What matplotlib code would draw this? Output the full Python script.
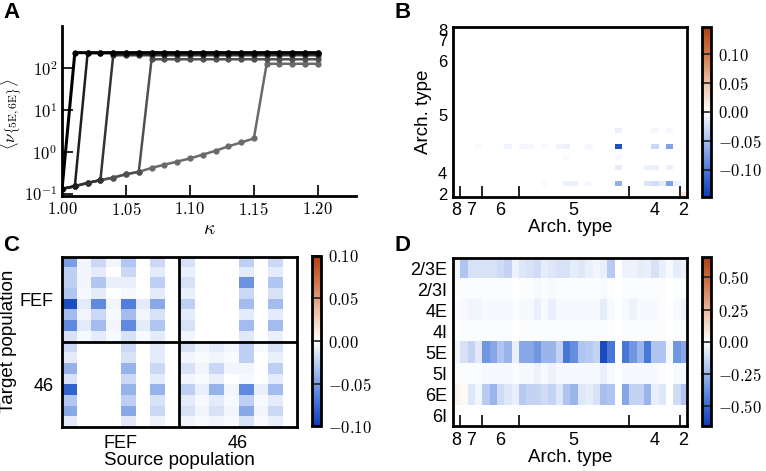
import numpy as np
import matplotlib
matplotlib.use('Agg')
import matplotlib.pyplot as plt
from matplotlib.colors import LinearSegmentedColormap
from matplotlib.ticker import FixedLocator, FuncFormatter, NullFormatter

plt.rcParams['font.family'] = ['Liberation Sans', 'DejaVu Sans']
plt.rcParams['mathtext.fontset'] = 'cm'

# ---- panel A data ----
kappa = [1.00, 1.01, 1.02, 1.03, 1.04, 1.05, 1.06, 1.07, 1.08, 1.09, 1.10,
         1.11, 1.12, 1.13, 1.14, 1.15, 1.16, 1.17, 1.18, 1.19, 1.20]
low_branch = [0.13, 0.15, 0.18, 0.21, 0.24, 0.29, 0.33, 0.41, 0.49, 0.58, 0.69,
              0.85, 1.05, 1.34, 1.66, 2.07]
jump_index = [1, 2, 4, 7, 16]
plateau = [230, 225, 200, 160, 125]
line_colors = ['#000000', '#1e1e1e', '#333333', '#505050', '#6a6a6a']
line_widths = [2.2, 1.8, 1.8, 1.8, 1.8]

# ---- architecture groups (panels B, D) ----
arch_labels = ['8', '7', '6', '5', '4', '2']
arch_counts = [1, 3, 5, 15, 7, 1]

# ---- panel B: sparse cells (row, col, value) ----
b_cells = [(22, 22, -0.13), (22, 27, -0.03), (22, 29, -0.07), (22, 7, -0.008),
           (22, 9, -0.006), (22, 10, -0.006), (22, 14, -0.008), (22, 15, -0.01),
           (22, 18, -0.006), (22, 3, -0.003), (22, 12, -0.004),
           (19, 22, -0.012), (19, 27, -0.006), (19, 29, -0.006),
           (26, 22, -0.015), (26, 26, -0.01), (26, 27, -0.012), (26, 29, -0.01),
           (24, 15, -0.004), (24, 22, -0.005),
           (29, 22, -0.06), (29, 26, -0.02), (29, 27, -0.025), (29, 28, -0.015),
           (29, 29, -0.07), (29, 30, -0.01), (29, 15, -0.01), (29, 16, -0.01),
           (29, 18, -0.006), (29, 12, -0.004),
           (31, 31, 0.02)]

# ---- panel C: FEF / 46 population matrix ----
populations = ['2/3E', '2/3I', '4E', '4I', '5E', '5I', '6E', '6I']
c_areas = ['FEF', '46']
c_values = [
    [-0.050, -0.005, -0.020, -0.005, -0.030, 0.000, -0.020, 0.000, -0.015, 0.000, 0.000, 0.000, -0.025, 0.000, -0.020, 0.000],
    [-0.025, -0.005, -0.010, 0.000, -0.020, 0.000, -0.010, 0.000, -0.008, 0.000, 0.000, 0.000, -0.010, 0.000, -0.010, 0.000],
    [-0.025, -0.005, -0.030, -0.008, -0.008, 0.000, -0.025, 0.000, -0.015, 0.000, 0.000, 0.000, -0.055, 0.000, -0.030, 0.000],
    [-0.030, -0.003, -0.010, 0.000, -0.003, 0.000, -0.010, 0.000, -0.008, 0.000, 0.000, 0.000, -0.020, 0.000, -0.015, 0.000],
    [-0.090, -0.010, -0.060, -0.005, -0.065, -0.010, -0.045, 0.000, -0.025, 0.000, 0.000, 0.000, -0.035, 0.000, -0.035, 0.000],
    [-0.035, -0.005, -0.020, -0.003, -0.035, -0.005, -0.015, 0.000, -0.010, 0.000, 0.000, 0.000, -0.010, 0.000, -0.010, 0.000],
    [-0.060, -0.010, -0.035, -0.005, -0.060, -0.010, -0.030, 0.000, -0.015, 0.000, 0.000, 0.000, -0.035, 0.000, -0.035, 0.000],
    [-0.015, -0.003, -0.010, -0.003, -0.015, -0.003, -0.010, 0.000, -0.005, 0.000, 0.000, 0.000, -0.012, 0.000, -0.008, 0.000],
    [-0.020, 0.000, 0.000, 0.000, -0.020, 0.000, -0.010, 0.000, -0.015, -0.005, -0.010, -0.005, -0.025, -0.003, -0.015, 0.000],
    [-0.010, 0.000, 0.000, 0.000, -0.015, 0.000, -0.010, 0.000, -0.005, -0.002, -0.005, -0.002, -0.025, 0.000, -0.008, 0.000],
    [-0.040, 0.000, 0.000, 0.000, -0.040, 0.000, -0.020, 0.000, -0.015, -0.005, -0.020, -0.005, -0.005, 0.000, -0.025, 0.000],
    [-0.015, 0.000, 0.000, 0.000, -0.020, 0.000, -0.010, 0.000, -0.005, -0.002, -0.008, 0.000, -0.003, 0.000, -0.010, 0.000],
    [-0.080, 0.000, 0.000, 0.000, -0.040, 0.000, -0.040, 0.000, -0.025, -0.008, -0.040, -0.005, -0.060, -0.008, -0.035, 0.000],
    [-0.030, 0.000, 0.000, 0.000, -0.025, 0.000, -0.015, 0.000, -0.010, -0.003, -0.010, -0.003, -0.025, -0.003, -0.010, 0.000],
    [-0.045, 0.000, 0.000, 0.000, -0.045, 0.000, -0.020, 0.000, -0.015, -0.005, -0.015, -0.005, -0.045, -0.005, -0.020, 0.000],
    [-0.010, 0.000, 0.000, 0.000, -0.012, 0.000, -0.006, 0.000, -0.005, -0.002, -0.005, -0.002, -0.015, -0.002, -0.008, 0.000],
]

# ---- panel D: population x area ----
d_values = [
    [-0.03, -0.20, -0.10, -0.10, -0.10, -0.10, -0.12, -0.15, -0.04, -0.08, -0.10, -0.12, -0.06, -0.08, -0.10, -0.10,
     -0.06, -0.08, -0.05, -0.03, -0.05, -0.18, 0.00, -0.04, -0.04, -0.06, -0.05, -0.10, -0.05, -0.02, -0.06, -0.04],
    [-0.01, -0.01, -0.01, -0.01, -0.01, -0.01, -0.01, -0.01, 0.00, -0.01, -0.01, -0.02, -0.01, -0.02, -0.01, -0.01,
     -0.01, -0.01, -0.01, -0.01, -0.02, -0.01, 0.00, -0.01, -0.01, -0.01, -0.01, -0.01, -0.01, 0.00, -0.01, -0.01],
    [-0.01, -0.02, -0.03, -0.03, -0.02, -0.02, -0.02, -0.02, -0.01, -0.02, -0.02, -0.05, -0.02, -0.05, -0.02, -0.02,
     -0.02, -0.02, -0.02, -0.02, -0.06, -0.02, 0.00, -0.02, -0.04, -0.02, -0.02, -0.02, -0.01, 0.00, -0.02, -0.04],
    [0.00, -0.01, -0.01, -0.01, -0.01, -0.01, -0.01, -0.01, 0.00, -0.01, -0.01, -0.01, -0.01, -0.01, -0.01, -0.01,
     -0.01, -0.01, -0.01, -0.01, -0.01, -0.01, 0.00, -0.01, -0.01, -0.01, -0.01, -0.01, -0.01, 0.00, -0.01, -0.01],
    [-0.03, -0.10, -0.15, -0.07, -0.35, -0.30, -0.20, -0.25, -0.05, -0.30, -0.30, -0.35, -0.25, -0.25, -0.15, -0.45,
     -0.38, -0.20, -0.18, -0.15, -0.60, -0.45, 0.00, -0.45, -0.35, -0.25, -0.45, -0.20, -0.20, -0.02, -0.35, -0.30],
    [-0.01, -0.01, -0.01, -0.01, -0.02, -0.02, -0.02, -0.02, -0.01, -0.02, -0.02, -0.04, -0.02, -0.04, -0.02, -0.02,
     -0.02, -0.02, -0.02, -0.02, -0.05, -0.02, 0.00, -0.02, -0.02, -0.02, -0.02, -0.02, -0.01, 0.00, -0.02, -0.02],
    [0.04, 0.02, -0.08, -0.03, -0.18, -0.25, -0.12, -0.08, -0.05, -0.18, -0.15, -0.15, -0.12, -0.15, -0.08, -0.20,
     -0.25, -0.08, -0.06, -0.10, -0.22, -0.20, 0.00, -0.30, -0.15, -0.15, -0.25, -0.05, -0.08, 0.00, -0.12, -0.20],
    [0.00, 0.00, 0.00, 0.00, 0.00, 0.00, 0.00, 0.00, 0.00, 0.00, 0.00, 0.00, 0.00, 0.00, 0.00, 0.00,
     0.00, 0.00, 0.00, 0.00, 0.00, 0.00, 0.00, 0.00, 0.00, 0.00, 0.00, 0.00, 0.00, 0.00, 0.00, 0.00],
]

# odd N so that zero lands exactly on the white centre
cmap = LinearSegmentedColormap.from_list(
    'bo', ['#0a3cb8', '#4f7ddb', '#a9c0ef', '#ffffff', '#efc3a9', '#d27a4c', '#b0400c'], N=255)

cm_fmt = FuncFormatter(lambda v, p: r'$%.2f$' % v)
SANS = 13
CMSIZE = 12


def frame(ax, lw=2.0):
    for s in ax.spines.values():
        s.set_linewidth(lw)


def add_cbar(fig, im, rect, ticks):
    cax = fig.add_axes(rect)
    cb = fig.colorbar(im, cax=cax, ticks=ticks)
    cb.outline.set_linewidth(2.0)
    cb.ax.yaxis.set_major_formatter(cm_fmt)
    cb.ax.tick_params(direction='in', length=7, width=1.2, color='#222222',
                      labelsize=CMSIZE, pad=5)
    return cb


def arch_axis(axis, n):
    bounds = np.cumsum(arch_counts)[:-1]
    centers = np.cumsum(arch_counts) - np.array(arch_counts) / 2.0
    axis.set_major_locator(FixedLocator(bounds))
    axis.set_major_formatter(NullFormatter())
    axis.set_minor_locator(FixedLocator(centers))
    axis.set_minor_formatter(FuncFormatter(lambda v, p: arch_labels[p]))


fig = plt.figure(figsize=(7.66, 4.71), dpi=100)

# ---------------- A ----------------
axA = fig.add_axes([0.081, 0.584, 0.384, 0.361])
for k in range(len(jump_index)):
    j = jump_index[k]
    y = low_branch[:j] + [plateau[k]] * (len(kappa) - j)
    axA.plot(kappa, y, color=line_colors[k], lw=line_widths[k], marker='o', ms=3.5,
             mec=line_colors[k], zorder=10 - k)
axA.set_yscale('log')
axA.set_xlim(1.0, 1.23)
axA.set_ylim(0.088, 1000)
axA.set_xticks([1.00, 1.05, 1.10, 1.15, 1.20])
axA.xaxis.set_major_formatter(cm_fmt)
axA.yaxis.set_major_locator(FixedLocator([0.1, 1, 10, 100]))
axA.yaxis.set_minor_locator(FixedLocator([]))
axA.yaxis.set_major_formatter(FuncFormatter(lambda v, p: r'$10^{%d}$' % round(np.log10(v))))
axA.spines['top'].set_visible(False)
axA.spines['right'].set_visible(False)
axA.spines['left'].set_linewidth(2)
axA.spines['bottom'].set_linewidth(2)
axA.tick_params(direction='in', length=8, width=1.2, labelsize=CMSIZE)
axA.set_xlabel(r'$\kappa$', fontsize=14, labelpad=2)
axA.set_ylabel(r'$\langle \nu_{\{\mathrm{5E,6E}\}} \rangle$', fontsize=12)
axA.yaxis.set_label_coords(-0.128, 0.48)

# ---------------- B ----------------
n_areas = sum(arch_counts)
b_matrix = np.zeros((n_areas, n_areas))
for r, c, v in b_cells:
    b_matrix[r, c] = v
axB = fig.add_axes([0.591, 0.582, 0.306, 0.361])
imB = axB.imshow(b_matrix, cmap=cmap, vmin=-0.147, vmax=0.147, aspect='auto',
                 interpolation='nearest', extent=(0, n_areas, n_areas, 0))
arch_axis(axB.xaxis, n_areas)
arch_axis(axB.yaxis, n_areas)
axB.tick_params(axis='x', which='major', direction='in', length=8, width=1.2, top=False)
axB.tick_params(axis='y', which='major', length=0)
axB.tick_params(which='minor', length=0, labelsize=SANS, pad=4)
axB.tick_params(axis='y', which='minor', labelsize=12)
axB.set_xlabel('Arch. type', fontsize=SANS + 0.5, labelpad=0)
axB.set_ylabel('Arch. type', fontsize=SANS + 0.5, labelpad=4)
frame(axB)
add_cbar(fig, imB, [0.916, 0.582, 0.012, 0.361], [-0.10, -0.05, 0.0, 0.05, 0.10])

# ---------------- C ----------------
axC = fig.add_axes([0.0805, 0.094, 0.307, 0.361])
nC = len(c_values)
imC = axC.imshow(np.array(c_values), cmap=cmap, vmin=-0.10, vmax=0.10, aspect='auto',
                 interpolation='nearest', extent=(0, nC, nC, 0))
axC.axvline(nC / 2, color='k', lw=2)
axC.axhline(nC / 2, color='k', lw=2)
axC.set_xticks([nC / 4, 3 * nC / 4])
axC.set_xticklabels(c_areas)
axC.set_yticks([nC / 4, 3 * nC / 4])
axC.set_yticklabels(c_areas)
axC.tick_params(length=0, labelsize=SANS, pad=6)
axC.set_xlabel('Source population', fontsize=SANS + 0.5, labelpad=0)
axC.set_ylabel('Target population', fontsize=SANS + 0.5, labelpad=2)
frame(axC)
add_cbar(fig, imC, [0.4069, 0.0955, 0.0117, 0.361], [-0.10, -0.05, 0.0, 0.05, 0.10])

# ---------------- D ----------------
axD = fig.add_axes([0.591, 0.0955, 0.306, 0.357])
imD = axD.imshow(np.array(d_values), cmap=cmap, vmin=-0.655, vmax=0.655, aspect='auto',
                 interpolation='nearest', extent=(0, n_areas, len(populations), 0))
arch_axis(axD.xaxis, n_areas)
axD.tick_params(axis='x', which='major', direction='in', length=8, width=1.2)
axD.tick_params(axis='x', which='minor', length=0, labelsize=SANS, pad=4)
axD.set_yticks(np.arange(len(populations)) + 0.5)
axD.set_yticklabels(populations)
axD.tick_params(axis='y', length=0, labelsize=SANS, pad=4)
axD.set_xlabel('Arch. type', fontsize=SANS + 0.5, labelpad=0)
frame(axD)
add_cbar(fig, imD, [0.916, 0.0955, 0.012, 0.358], [-0.50, -0.25, 0.0, 0.25, 0.50])

# panel letters
for lbl, x, y in [('A', 0.004, 0.995), ('B', 0.515, 0.995), ('C', 0.004, 0.502), ('D', 0.515, 0.502)]:
    fig.text(x, y, lbl, fontsize=16, fontweight='bold', va='top', ha='left')

fig.savefig('out.png', dpi=100)
